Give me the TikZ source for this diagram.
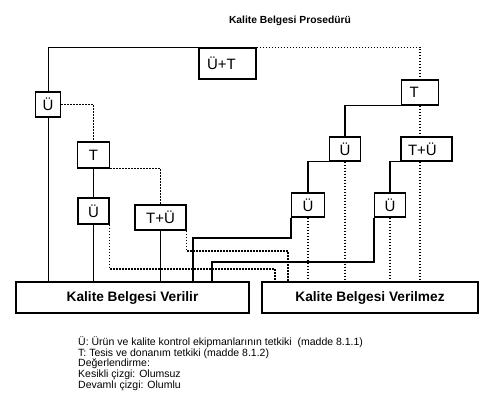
\documentclass[tikz,border=0pt]{standalone}
\usepackage{fontspec}
\setmainfont{Liberation Sans}
\begin{document}
\begin{tikzpicture}[x=1pt,y=-1pt,
  box/.style={draw, fill=white, line width=1.4pt, inner sep=0pt, font=\fontsize{15}{15}\selectfont},
  bigbox/.style={draw, fill=white, line width=1.4pt, inner sep=0pt, font=\bfseries\fontsize{13.7}{13.7}\selectfont},
  sol/.style={line width=1.4pt},
  dot/.style={line width=1.4pt, dash pattern=on 1.4pt off 1.6pt}]
\useasboundingbox[fill=white] (0,0) rectangle (499,412);
\node[font=\bfseries\fontsize{10.3}{10.3}\selectfont] (title) at (290,21) {Kalite Belgesi Prosedürü};
% boxes
\node[box, minimum width=57pt, minimum height=31pt, text width=41pt, align=left] (UT) at (227.5,63.5) {Ü+T};
\node[box, minimum width=25pt, minimum height=25pt] (U1) at (48,104.5) {Ü};
\node[box, minimum width=32pt, minimum height=26pt] (T1) at (93.5,155) {T};
\node[box, minimum width=31pt, minimum height=26pt] (U2) at (93.5,211) {Ü};
\node[box, minimum width=51pt, minimum height=25pt] (TU1) at (160.5,217.5) {T+Ü};
\node[box, minimum width=37pt, minimum height=25pt, text width=21pt, align=left] (TR) at (420,92.5) {T};
\node[box, minimum width=31pt, minimum height=24pt] (UR) at (345,149) {Ü};
\node[box, minimum width=51pt, minimum height=24pt, text width=37pt, align=left] (TUR) at (426.5,149) {T+Ü};
\node[box, minimum width=33pt, minimum height=24pt] (UR1) at (308,205) {Ü};
\node[box, minimum width=31pt, minimum height=24pt] (UR2) at (390,205) {Ü};
\node[bigbox, minimum width=233pt, minimum height=31pt] (VER) at (132.5,297.5) {Kalite Belgesi Verilir};
\node[bigbox, minimum width=216pt, minimum height=31pt] (VMZ) at (370,297.5) {Kalite Belgesi Verilmez};
% helper coordinates
\coordinate (j1) at (193,238);
\coordinate (j2) at (212,262);
\coordinate (d1) at (288,251);
\coordinate (d2) at (275,269);
% connectors
\draw[line width=1pt] (UT.north west) -| (U1.north);
\draw[line width=1pt] (U1.south) -- (U1.south |- VER.north);
\draw[dot] (UT.north east) -| (TR.north);
\draw[sol] (TR.south west) -| (UR.north);
\draw[dot] (TR.south) -- (TR.south |- TUR.north);
\draw[sol] (UR.south west) -| (UR1.north);
\draw[dot] (UR.south) -- (UR.south |- VMZ.north);
\draw[sol] (TUR.south west) -| (UR2.north);
\draw[dot] (TR.south |- TUR.south) -- (TR.south |- VMZ.north);
\draw[dot] (UR1.south) -- (UR1.south |- VMZ.north);
\draw[dot] (UR2.south) -- (UR2.south |- VMZ.north);
\draw[sol] (UR1.south west) |- (j1) -- (j1 |- VER.north);
\draw[sol] (UR2.south west) |- (j2) -- (j2 |- VER.north);
\draw[dot] (TU1.south east) |- (d1) -- (d1 |- VMZ.north);
\draw[dot] (U2.south east) |- (d2) -- (d2 |- VMZ.north);
\draw[dot] (U1.east) -| (T1.north);
\draw[dot] (T1.south east) -| (TU1.north);
\draw[sol] (T1.south) -- (U2.north);
\draw[sol] (U2.south) -- (U2.south |- VER.north);
\draw[sol] (TU1.south) -- (TU1.south |- VER.north);
% legend
\node[anchor=north west, align=left, inner sep=0pt, font=\fontsize{10.5}{10.7}\selectfont] (leg) at (78,336.5) {Ü: Ürün ve kalite kontrol ekipmanlarının tetkiki\ \ (madde 8.1.1)\\T: Tesis ve donanım tetkiki (madde 8.1.2)\\Değerlendirme:\\Kesikli çizgi: Olumsuz\\Devamlı çizgi: Olumlu};
\end{tikzpicture}
\end{document}
